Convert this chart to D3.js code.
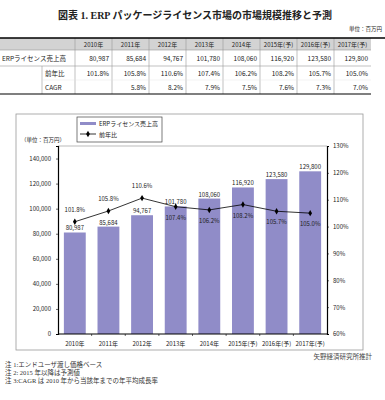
<!DOCTYPE html>
<meta charset="utf-8">
<script src="https://d3js.org/d3.v7.min.js"></script>
<style>
  body { margin: 0; background: #fff; }
  text { font-family: "Noto Sans CJK JP", "DejaVu Sans", sans-serif; fill: #222; }
  .serif { font-family: "Liberation Serif", "Noto Sans CJK JP", serif; }
</style>
<div id="chart"></div>
<script>

// chart data
var years = ["2010年", "2011年", "2012年", "2013年", "2014年", "2015年(予)", "2016年(予)", "2017年(予)"];
var sales = [80987, 85684, 94767, 101780, 108060, 116920, 123580, 129800];
var yoy = [101.8, 105.8, 110.6, 107.4, 106.2, 108.2, 105.7, 105.0];
var cagr = [null, 5.8, 8.2, 7.9, 7.5, 7.6, 7.3, 7.0];
var leftTicks = [0, 20000, 40000, 60000, 80000, 100000, 120000, 140000];
var rightTicks = [60, 70, 80, 90, 100, 110, 120, 130];
var notes = ["注 1:エンドユーザ渡し価格ベース", "注 2: 2015 年以降は予測値", "注 3:CAGR は 2010 年から当該年までの年平均成長率"];

var W = 385, H = 400;
var barColor = "#908cc8";
var fmt = d3.format(",");

var svg = d3.select("#chart").append("svg")
  .attr("width", W).attr("height", H);

// title
svg.append("text")
  .attr("class", "serif")
  .attr("x", 195).attr("y", 19)
  .attr("text-anchor", "middle")
  .style("font-size", "10px").style("font-weight", "bold")
  .text("図表 1.  ERP パッケージライセンス市場の市場規模推移と予測");

svg.append("text")
  .attr("x", 382).attr("y", 31)
  .attr("text-anchor", "end")
  .style("font-size", "5.5px")
  .text("単位：百万円");

// ---------- table ----------
var tLeft = 75, colW = 37, tTop = 38;
var rowY = [38, 50, 66, 80, 94];
var tRight = tLeft + colW * years.length;

svg.append("rect")
  .attr("x", 0).attr("y", rowY[0]).attr("width", tRight).attr("height", rowY[1] - rowY[0])
  .style("fill", "#d3d3d3");

// vertical lines
years.forEach(function(d, i) {
  svg.append("line")
    .attr("x1", tLeft + colW * i).attr("x2", tLeft + colW * i)
    .attr("y1", rowY[0]).attr("y2", rowY[4])
    .style("stroke", "#999").style("stroke-width", 0.6);
});
svg.append("line")
  .attr("x1", 42).attr("x2", 42).attr("y1", rowY[2]).attr("y2", rowY[4])
  .style("stroke", "#999").style("stroke-width", 0.6);

// horizontal lines
[rowY[1], rowY[2]].forEach(function(y) {
  svg.append("line").attr("x1", 0).attr("x2", tRight).attr("y1", y).attr("y2", y)
    .style("stroke", "#999").style("stroke-width", 0.6);
});
svg.append("line").attr("x1", 42).attr("x2", tRight).attr("y1", rowY[3]).attr("y2", rowY[3])
  .style("stroke", "#ddd").style("stroke-width", 0.4);
svg.append("line").attr("x1", 0).attr("x2", W).attr("y1", rowY[0]).attr("y2", rowY[0])
  .style("stroke", "#000").style("stroke-width", 1.5);
svg.append("line").attr("x1", 0).attr("x2", tRight).attr("y1", rowY[4]).attr("y2", rowY[4])
  .style("stroke", "#000").style("stroke-width", 1.2);

var tfs = "6.5px";
svg.selectAll(".thead").data(years).enter().append("text")
  .attr("x", function(d, i) { return tLeft + colW * i + colW / 2; })
  .attr("y", 46.5).attr("text-anchor", "middle").style("font-size", "6px")
  .text(function(d) { return d; });

svg.append("text").attr("x", 2).attr("y", 61).style("font-size", tfs).text("ERPライセンス売上高");
svg.append("text").attr("x", 45).attr("y", 76).style("font-size", tfs).text("前年比");
svg.append("text").attr("x", 45).attr("y", 90).style("font-size", tfs).text("CAGR");

svg.selectAll(".tsales").data(sales).enter().append("text")
  .attr("x", function(d, i) { return tLeft + colW * (i + 1) - 3; })
  .attr("y", 61).attr("text-anchor", "end").style("font-size", tfs)
  .text(function(d) { return fmt(d); });
svg.selectAll(".tyoy").data(yoy).enter().append("text")
  .attr("x", function(d, i) { return tLeft + colW * (i + 1) - 3; })
  .attr("y", 76).attr("text-anchor", "end").style("font-size", tfs)
  .text(function(d) { return d.toFixed(1) + "%"; });
svg.selectAll(".tcagr").data(cagr).enter().append("text")
  .attr("x", function(d, i) { return tLeft + colW * (i + 1) - 3; })
  .attr("y", 90).attr("text-anchor", "end").style("font-size", tfs)
  .text(function(d) { return d == null ? "" : d.toFixed(1) + "%"; });

// ---------- chart ----------
svg.append("rect")
  .attr("x", 16).attr("y", 114).attr("width", 347).attr("height", 236)
  .style("fill", "#fff").style("stroke", "#999").style("stroke-width", 0.8);

var pl = 58, pr = 327, pt = 146, pb = 334;

var x = d3.scaleBand().domain(years).range([pl, pr]).paddingInner(0.35).paddingOuter(0.175);
var y = d3.scaleLinear().domain([0, 150000]).range([pb, pt]);
var y2 = d3.scaleLinear().domain([60, 130]).range([pb, pt]);

// plot top border
svg.append("line").attr("x1", pl).attr("x2", pr).attr("y1", pt).attr("y2", pt)
  .style("stroke", "#aaa").style("stroke-width", 0.8);

// bars
svg.selectAll(".bar").data(sales).enter().append("rect")
  .attr("x", function(d, i) { return x(years[i]); })
  .attr("y", function(d) { return y(d); })
  .attr("width", x.bandwidth())
  .attr("height", function(d) { return pb - y(d); })
  .style("fill", barColor);

// axes
var yAxis = svg.append("g").attr("transform", "translate(" + pl + ",0)")
  .call(d3.axisLeft(y).tickValues(leftTicks).tickSize(2).tickPadding(5).tickFormat(fmt));
var yAxis2 = svg.append("g").attr("transform", "translate(" + pr + ",0)")
  .call(d3.axisRight(y2).tickValues(rightTicks).tickSize(2).tickPadding(4).tickFormat(function(d) { return d + "%"; }));
var xAxis = svg.append("g").attr("transform", "translate(0," + pb + ")")
  .call(d3.axisBottom(x).tickSize(0).tickPadding(8));

[yAxis, yAxis2, xAxis].forEach(function(g) {
  g.select(".domain").style("stroke", "#000").style("stroke-width", 1.2);
  g.selectAll(".tick line").style("stroke", "#000").style("stroke-width", 0.6);
  g.selectAll("text").style("font-size", "6px").style("fill", "#222")
    .style("font-family", "'Noto Sans CJK JP', sans-serif");
});
xAxis.select(".domain").attr("d", "M" + pl + ",0H" + pr);

// category boundary ticks
var step = x.step();
years.slice(1).forEach(function(d, i) {
  var bx = x(years[i + 1]) - x.paddingInner() * step / 2;
  svg.append("line").attr("x1", bx).attr("x2", bx).attr("y1", pb).attr("y2", pb + 2)
    .style("stroke", "#000").style("stroke-width", 0.6);
});

// value labels above bars
svg.selectAll(".vlab").data(sales).enter().append("text")
  .attr("x", function(d, i) { return x(years[i]) + x.bandwidth() / 2; })
  .attr("y", function(d) { return y(d) - 2; })
  .attr("text-anchor", "middle").style("font-size", "6px")
  .text(function(d) { return fmt(d); });

// yoy line
var cx = function(i) { return x(years[i]) + x.bandwidth() / 2; };
var line = d3.line()
  .x(function(d, i) { return cx(i); })
  .y(function(d) { return y2(d); });

svg.append("path").datum(yoy)
  .attr("d", line)
  .style("fill", "none").style("stroke", "#000").style("stroke-width", 0.8);

svg.selectAll(".mark").data(yoy).enter().append("path")
  .attr("d", d3.symbol().type(d3.symbolDiamond).size(12))
  .attr("transform", function(d, i) { return "translate(" + cx(i) + "," + y2(d) + ")"; })
  .style("fill", "#000");

svg.selectAll(".plab").data(yoy).enter().append("text")
  .attr("x", function(d, i) { return cx(i); })
  .attr("y", function(d, i) {
    var above = y2(d) < y(sales[i]);
    return above ? y2(d) - 10 : y2(d) + 13;
  })
  .attr("text-anchor", "middle").style("font-size", "6px")
  .text(function(d) { return d.toFixed(1) + "%"; });

// unit label
svg.append("text").attr("x", 21).attr("y", 142).style("font-size", "5.5px").text("（単位：百万円）");

// legend
svg.append("rect").attr("x", 77).attr("y", 117).attr("width", 85).attr("height", 25)
  .style("fill", "#fff").style("stroke", "#444").style("stroke-width", 0.7);
svg.append("rect").attr("x", 80).attr("y", 122).attr("width", 16).attr("height", 3)
  .style("fill", barColor);
svg.append("text").attr("x", 99).attr("y", 125.5).style("font-size", "6px").text("ERPライセンス売上高");
svg.append("line").attr("x1", 80).attr("x2", 96).attr("y1", 134).attr("y2", 134)
  .style("stroke", "#000").style("stroke-width", 0.8);
svg.append("path").attr("d", d3.symbol().type(d3.symbolDiamond).size(12))
  .attr("transform", "translate(88,134)").style("fill", "#000");
svg.append("text").attr("x", 99).attr("y", 136.5).style("font-size", "6px").text("前年比");

// source & notes
svg.append("text").attr("class", "serif").attr("x", 372).attr("y", 359)
  .attr("text-anchor", "end").style("font-size", "6.5px").style("fill", "#444").text("矢野経済研究所推計");

svg.selectAll(".note").data(notes).enter().append("text")
  .attr("class", "serif")
  .attr("x", 5).attr("y", function(d, i) { return 367 + i * 8; })
  .style("font-size", "6.5px").style("fill", "#333")
  .text(function(d) { return d; });

</script>
